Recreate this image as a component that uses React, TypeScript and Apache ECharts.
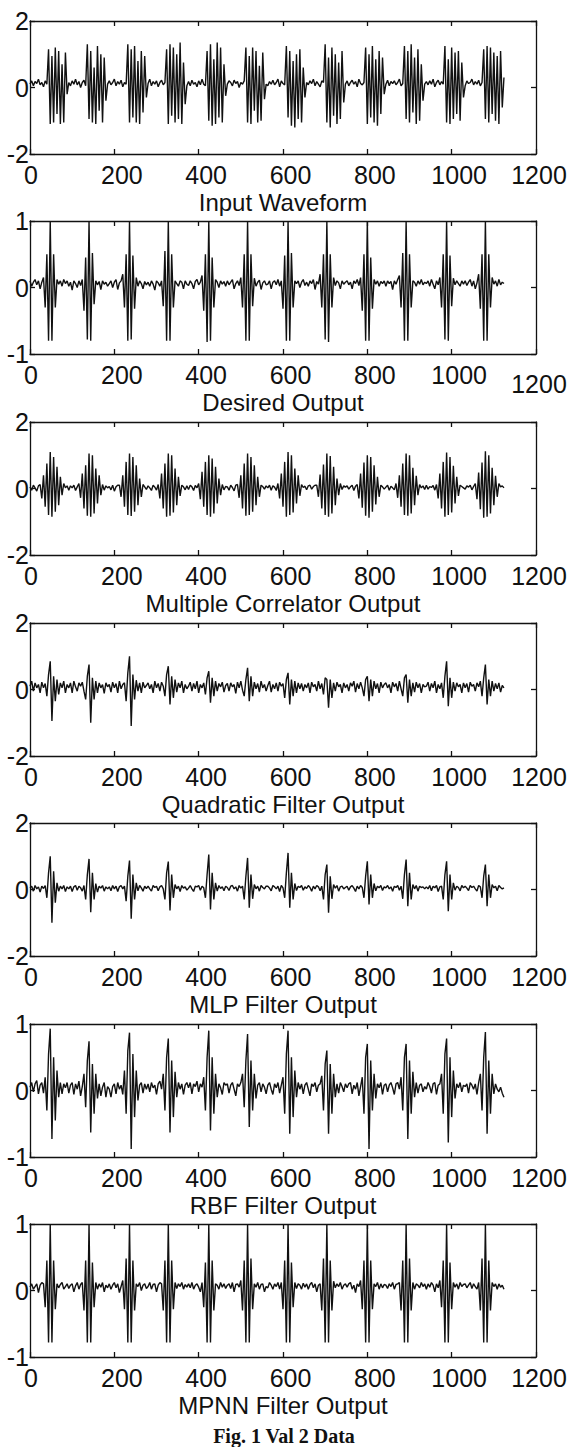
import React, { useEffect, useRef } from "react";
import * as echarts from "echarts";

// sample spacing of the recorded signals and the first sample index of each burst period
const sampleStep = 4;
const periodStarts = [0, 23, 47, 70, 94, 117, 141, 164, 188, 211, 235, 258];

const xTickValues = [0, 200, 400, 600, 800, 1000, 1200];

const titles = [
  "Input Waveform",
  "Desired Output",
  "Multiple Correlator Output",
  "Quadratic Filter Output",
  "MLP Filter Output",
  "RBF Filter Output",
  "MPNN Filter Output",
];
const yLimits = [2, 1, 2, 2, 2, 1, 1];
const caption = "Fig. 1 Val 2 Data";

const inputRows = [
  [.1,.2,.05,.18,.12,.25,.08,.15,.02,.2,.1,1.15,-1.1,.95,-1.05,1.2,-.8,1.1,-1.1,.7,-1.05,1.05,-.2],
  [.15,.05,.2,.1,.25,.08,.18,0,.15,.22,.05,1.3,-.95,1.1,-1.05,.6,-1.1,1.25,-.7,1.0,-1.05,.9,-.4,.1],
  [.2,.08,.15,.25,.05,.18,.1,.22,.02,.15,.1,1.3,-1.05,1.15,-.9,1.25,-1.05,.8,-1.1,1.1,-.75,.95,-.3],
  [.12,.25,.05,.18,.1,.2,.02,.15,.22,.08,.15,1.15,-1.1,1.3,-.85,1.2,-1.05,1.0,-.95,1.35,-1.1,.75,-.5,.05],
  [.18,.05,.22,.1,.15,.02,.2,.08,.25,.1,.05,1.1,-1.0,1.3,-1.15,.85,-1.1,1.35,-.9,1.2,-1.05,.7,-.25],
  [.1,.2,.15,.05,.22,.12,.18,0,.15,.1,.2,1.2,-1.05,.95,-1.1,1.2,-.7,1.1,-1.05,.65,-1.0,1.05,-.35,.1],
  [.05,.18,.1,.22,.08,.15,.25,.02,.2,.12,.08,1.25,-.9,1.1,-1.15,.8,-1.2,1.0,-.95,1.15,-1.05,.6,-.3],
  [.15,.08,.2,.12,.25,.05,.18,.1,.02,.2,.15,1.3,-1.05,.9,-1.2,1.2,-.85,1.0,-1.1,.75,-.95,1.1,-.45,.1],
  [.2,.05,.15,.22,.1,.18,.02,.25,.12,.08,.15,1.2,-1.1,1.0,-.9,1.25,-1.05,.85,-1.15,1.1,-.8,.9,-.2],
  [.1,.22,.05,.18,.12,.2,.08,.15,.25,.05,.12,1.25,-.95,1.1,-1.05,1.3,-.75,.9,-1.1,1.15,-1.0,.7,-.4,.1],
  [.18,.08,.2,.1,.25,.02,.15,.22,.08,.18,.1,1.25,-1.05,.85,-1.1,1.2,-.95,1.05,-.8,1.1,-1.0,.75,-.3],
  [.05,.2,.12,.15,.25,.08,.18,.1,.22,.05,.15,1.15,-.95,1.25,-1.05,1.2,-.8,1.05,-1.0,.95,-1.1,1.1,-.6,.3],
];

const desiredRows = [
  [.1,.02,.08,.12,.04,.1,-.02,.08,.15,-.3,.5,-.8,1,-.8,.5,-.3,.12,.05,.1,.02,.12,.06,.1],
  [.02,.08,-.04,.1,.06,0,.1,.03,.12,-.35,.45,-.78,1,-.8,.52,-.25,.1,.04,.09,-.03,.1,.05,.08,.02],
  [.06,.1,0,.08,.12,-.03,.07,.1,.2,-.3,.5,-.8,1,-.78,.48,-.32,.15,.02,.1,.06,-.02,.09,.04],
  [.08,.02,.1,.05,-.04,.1,.07,.02,.1,-.28,.55,-.8,1,-.8,.5,-.3,.1,.06,.02,.1,.08,-.02,.1,.05],
  [.03,.1,.06,-.02,.09,.12,.04,.08,.18,-.35,.5,-.82,1,-.8,.45,-.3,.12,.08,0,.1,.05,.09,.02],
  [.1,.04,.08,.12,-.02,.06,.1,.03,.15,-.3,.5,-.8,1,-.8,.5,-.28,.14,.02,.08,.11,-.03,.07,.1,.04],
  [.05,.1,-.02,.08,.1,.04,.12,.02,.1,-.32,.48,-.8,1,-.8,.52,-.3,.1,.06,.1,0,.08,.12,.03],
  [.08,.02,.1,.06,.12,-.03,.09,.05,.2,-.3,.5,-.78,1,-.82,.5,-.3,.15,.03,.1,.07,-.02,.1,.05,.08],
  [.1,.04,.08,-.02,.1,.06,.12,.03,.15,-.35,.5,-.8,1,-.8,.45,-.32,.12,.05,.1,.02,.09,.06,.1],
  [.02,.1,.06,.09,-.03,.1,.05,.12,.18,-.3,.52,-.8,1,-.8,.5,-.3,.1,.08,.02,.1,.05,.12,.04,.08],
  [.06,.1,.02,.12,.05,-.02,.1,.04,.15,-.3,.5,-.78,1,-.8,.48,-.28,.14,.04,.1,.06,.02,.1,.05],
  [.1,.03,.08,.12,.02,.1,-.02,.07,.2,-.32,.5,-.8,1,-.8,.5,-.3,.15,.05,.1,.02,.12,.04,.08,.06],
];

const correlatorRows = [
  [.05,-.05,.1,.02,-.08,.08,.12,-.3,.4,-.55,.75,-.8,1.1,-.85,.95,-.7,.65,-.5,.35,-.2,.15,.02,.08],
  [-.05,.08,.02,.1,-.06,.05,.15,-.28,.45,-.6,.7,-.82,1.05,-.85,1.0,-.75,.6,-.45,.4,-.2,.12,-.05,.08,.02],
  [.06,-.04,.1,-.08,.05,.1,.1,-.25,.4,-.55,.8,-.8,1.05,-.83,.95,-.7,.7,-.5,.3,-.25,.12,.05,-.03],
  [.08,.02,-.06,.1,.04,-.05,.12,-.3,.45,-.6,.75,-.85,1.05,-.82,1.0,-.72,.6,-.5,.35,-.22,.1,.05,-.04,.08],
  [-.03,.1,.05,-.06,.09,.02,.15,-.32,.5,-.55,.8,-.8,1.0,-.85,.9,-.75,.65,-.45,.3,-.2,.12,-.04,.06],
  [.05,-.05,.1,.03,-.07,.1,.12,-.28,.4,-.6,.75,-.82,1.05,-.8,.95,-.7,.7,-.5,.35,-.25,.1,.06,-.02,.08],
  [.02,.1,-.05,.08,.04,-.06,.15,-.3,.45,-.55,.8,-.85,1.1,-.8,1.0,-.72,.6,-.45,.4,-.22,.12,.03,.07],
  [-.04,.08,.1,-.02,.06,.1,.1,-.25,.42,-.6,.72,-.8,1.05,-.85,.98,-.75,.65,-.5,.3,-.2,.15,-.03,.08,.04],
  [.08,-.02,.05,.1,-.06,.07,.12,-.3,.45,-.58,.78,-.82,1.0,-.88,.95,-.7,.7,-.48,.35,-.25,.1,.05,-.02],
  [.04,.1,-.05,.07,.02,-.04,.15,-.28,.4,-.55,.75,-.8,1.05,-.82,1.0,-.75,.62,-.5,.38,-.2,.12,.02,.08,-.03],
  [.1,-.02,.06,.03,.09,-.05,.12,-.3,.45,-.6,.8,-.85,1.08,-.8,.95,-.72,.68,-.45,.35,-.22,.1,.06,.02],
  [-.02,.08,.04,.1,-.04,.06,.15,-.32,.48,-.62,.78,-.88,1.12,-.85,1.0,-.75,.62,-.5,.38,-.25,.15,.05,.08,.02],
];

const quadraticRows = [
  [.1,.25,-.05,.2,.05,.15,-.1,.22,.05,.18,-.2,.45,.85,-.95,.4,-.35,.3,-.15,.2,.05,.25,-.1,.15],
  [.05,.2,-.1,.25,.08,-.05,.2,.1,.22,-.05,-.3,.4,.75,-1.0,.35,-.3,.25,-.1,.2,.05,.15,-.12,.2,.08],
  [.15,-.08,.22,.05,.18,-.1,.25,.02,.15,.2,-.35,.5,1.0,-1.1,.45,-.3,.28,-.05,.2,-.1,.22,.05,.12],
  [.2,.02,.15,-.1,.25,.05,.18,-.05,.22,.1,-.2,.45,.7,-.45,.4,-.25,.3,-.08,.2,.05,.25,-.1,.15,.02],
  [.1,.22,-.05,.18,.02,.25,-.1,.15,.05,.2,-.15,.35,.55,-.4,.35,-.2,.25,-.05,.18,.08,.22,-.08,.12],
  [.18,-.05,.2,.08,.15,-.12,.22,.05,.25,-.02,-.2,.3,.65,-.35,.4,-.2,.22,.02,.18,-.08,.25,.05,.15,-.05],
  [.12,.25,-.08,.15,.02,.2,-.05,.22,.1,.18,-.25,.3,.5,-.45,.3,-.2,.25,-.1,.2,.02,.18,-.05,.15],
  [.05,.2,-.1,.22,.08,.15,-.05,.25,.02,.18,-.15,.35,.3,-.55,.3,-.25,.2,-.05,.22,.08,.15,-.1,.2,.05],
  [.15,-.05,.2,.1,.25,-.08,.18,.02,.22,.05,-.2,.3,.4,-.35,.3,-.2,.25,.02,.18,-.1,.22,.05,.15],
  [.2,.05,.15,-.1,.22,.08,.18,-.05,.25,.02,-.2,.35,.45,-.4,.3,-.2,.2,-.08,.22,.05,.18,-.1,.15,.08],
  [.1,.22,-.05,.18,.05,.25,-.1,.15,.02,.2,-.25,.4,.85,-.5,.35,-.25,.22,-.05,.2,.08,.15,-.1,.2],
  [.05,.18,-.08,.22,.1,.15,-.05,.2,.08,.25,-.2,.35,.75,-.45,.3,-.2,.25,-.05,.18,.02,.2,-.08,.12,.05],
];

const mlpRows = [
  [.05,.1,-.05,.12,.02,.08,-.08,.1,.03,.12,-.25,.5,1.0,-1.0,.55,-.4,.2,-.05,.1,.02,.12,-.06,.08],
  [.02,.1,-.06,.08,.12,-.02,.1,.05,-.05,.12,-.3,.45,.92,-.68,.5,-.3,.18,-.08,.1,.04,.12,-.05,.08,.02],
  [.08,-.04,.12,.02,.1,-.06,.08,.12,.02,.1,-.35,.4,.87,-.88,.45,-.3,.2,-.04,.12,.05,-.05,.1,.03],
  [.1,.02,-.05,.12,.06,.1,-.04,.08,.12,.02,-.3,.5,.84,-.63,.45,-.25,.15,.02,.1,-.06,.12,.04,.08,-.02],
  [.04,.12,.02,-.06,.1,.08,.12,-.02,.1,.05,-.25,.45,1.05,-.6,.5,-.3,.2,-.05,.12,.03,.08,-.04,.1],
  [.06,-.03,.1,.12,.02,.08,-.05,.12,.04,.1,-.3,.4,.95,-.55,.45,-.28,.15,.02,.1,-.05,.12,.06,.02,.1],
  [.1,.04,-.04,.12,.08,.02,.1,-.06,.12,.05,-.25,.5,1.1,-.55,.5,-.3,.18,-.03,.1,.06,.12,-.02,.08],
  [.03,.12,.06,-.05,.1,.02,.12,.08,-.04,.1,-.3,.45,.75,-.7,.4,-.28,.15,.04,.12,-.05,.08,.1,.02,.06],
  [.1,-.02,.08,.12,.04,-.06,.1,.02,.12,.06,-.25,.4,.85,-.45,.45,-.25,.18,-.04,.1,.05,.12,-.03,.08],
  [.05,.12,.02,.08,-.05,.1,.06,.12,-.02,.1,-.28,.45,.9,-.5,.5,-.3,.15,.02,.12,-.05,.1,.06,.08,.02],
  [.08,.02,.12,-.04,.1,.05,.12,-.06,.08,.1,-.3,.45,.85,-.65,.45,-.3,.2,-.02,.1,.06,-.04,.12,.05],
  [.1,.04,-.03,.12,.06,.1,.02,-.05,.12,.08,-.25,.4,.75,-.5,.45,-.25,.15,.05,.1,-.04,.12,.06,.02,.05],
];

const rbfRows = [
  [.05,.12,-.02,.1,.15,-.05,.08,.12,-.04,.2,-.3,.55,.93,-.73,.5,-.45,.3,-.1,.12,-.05,.1,.04,.12],
  [-.04,.08,.12,-.06,.1,.02,.14,-.08,.06,.25,-.25,.45,.74,-.63,.4,-.35,.25,-.12,.1,-.08,.05,.12,-.1,.06],
  [.02,-.1,.06,.1,-.05,.12,.02,.08,-.06,.3,-.35,.6,.87,-.88,.55,-.4,.3,-.15,.08,.12,-.04,.1,.02],
  [.1,-.02,.12,.04,.08,-.06,.1,.14,.02,.25,-.3,.5,.78,-.63,.45,-.4,.28,-.1,.12,.02,.1,-.06,.08,.12],
  [.04,.12,-.05,.1,.06,.14,-.02,.1,.05,.2,-.3,.5,.9,-.6,.5,-.35,.25,-.1,.1,.04,-.06,.12,.08],
  [.1,-.04,.08,.12,.02,-.08,.1,.06,.12,.25,-.25,.45,.85,-.55,.45,-.3,.25,-.12,.08,.12,-.02,.1,.05,-.05],
  [.08,.12,.02,-.06,.1,.04,.12,-.04,.08,.2,-.35,.55,.9,-.65,.5,-.4,.3,-.1,.12,.02,.1,-.05,.08],
  [.12,.02,-.08,.1,.06,.12,-.02,.08,.1,.22,-.3,.4,.6,-.65,.4,-.35,.25,-.1,.1,-.04,.12,.06,-.02,.1],
  [.04,.1,.12,-.05,.08,.02,.12,-.08,.06,.2,-.35,.5,.7,-.88,.45,-.3,.25,-.12,.1,.04,.12,-.06,.08],
  [.1,-.02,.08,.12,.04,-.06,.1,.12,.02,.2,-.3,.5,.7,-.73,.45,-.35,.28,-.1,.12,-.04,.08,.1,-.02,.06],
  [.02,.12,.06,-.04,.1,.12,-.06,.08,.1,.25,-.35,.55,.78,-.78,.5,-.4,.3,-.12,.1,.04,.12,-.02,.08],
  [.06,.1,-.04,.12,.08,.02,.1,-.06,.12,.25,-.3,.5,.88,-.65,.45,-.35,.25,-.05,.1,.02,-.02,.05,-.04,-.1],
];

const mpnnRows = [
  [.05,.1,.02,.06,.1,-.03,.08,.12,.1,-.25,.45,-.78,1,-.78,.45,-.28,.1,.04,.09,.12,.02,.06,.1],
  [.03,.08,.1,-.02,.07,.12,.02,.09,.12,-.3,.45,-.78,1,-.78,.42,-.25,.12,.02,.1,.05,.12,-.02,.08,.04],
  [.1,.02,.08,.12,.04,.1,-.03,.06,.15,-.28,.48,-.78,1,-.78,.45,-.3,.1,.06,.12,0,.08,.1,.03],
  [.06,.12,.02,.09,.1,-.02,.08,.12,.1,-.3,.45,-.78,1,-.78,.45,-.28,.12,.03,.1,.06,.12,.02,.09,.05],
  [.1,.04,.12,.02,.08,.1,.05,-.02,.12,-.25,.42,-.78,1,-.78,.45,-.3,.1,.08,.02,.12,.05,.1,.03],
  [.08,.1,.03,.12,-.02,.09,.1,.05,.15,-.3,.45,-.78,1,-.78,.48,-.28,.1,.05,.12,.02,.09,.1,-.02,.06],
  [.04,.12,.08,.02,.1,.06,.12,.02,.12,-.28,.45,-.78,1,-.78,.42,-.25,.12,.03,.1,.08,.02,.11,.05],
  [.1,.02,.09,.12,.04,.1,-.02,.08,.1,-.3,.48,-.78,1,-.78,.45,-.3,.14,.04,.1,.06,.12,.02,.08,.1],
  [.05,.1,.12,.02,.08,-.03,.1,.06,.15,-.28,.45,-.78,1,-.78,.45,-.28,.1,.06,.12,.02,.1,.04,.09],
  [.08,.03,.1,.06,.12,.02,.09,.1,.12,-.3,.45,-.78,1,-.78,.48,-.3,.12,.02,.1,.08,.04,.12,.06,.1],
  [.02,.1,.05,.12,.08,-.02,.1,.04,.15,-.25,.45,-.78,1,-.78,.42,-.28,.12,.05,.1,.02,.12,.06,.09],
  [.1,.04,.08,.12,.03,.1,.06,.02,.12,-.3,.48,-.78,1,-.78,.45,-.3,.12,.06,.1,.02,.1,.05,.08,.02],
];

const seriesRows = [inputRows, desiredRows, correlatorRows, quadraticRows, mlpRows, rbfRows, mpnnRows];

function toPoints(rows: number[][]) {
  const pts: number[][] = [];
  rows.forEach((row, r) => {
    row.forEach((v, j) => {
      pts.push([(periodStarts[r] + j) * sampleStep, v]);
    });
  });
  return pts;
}

// layout
const gridLeft = 30;
const gridWidth = 506;
const gridHeight = 133;
const gridTops = [21, 221, 422, 623, 823, 1024, 1224];
const FONT = "'Liberation Sans', Arial, Helvetica, sans-serif";
const INK = "#111";
const FS = 25;

export default function App() {
  const ref = useRef<HTMLDivElement>(null);
  useEffect(() => {
    if (!ref.current) return;
    const chart = echarts.init(ref.current, undefined, { renderer: "svg" });
    const lineStyle = { color: INK, width: 1.3 };
    const grid: any[] = [];
    const xAxis: any[] = [];
    const yAxis: any[] = [];
    const series: any[] = [];
    titles.forEach((title, i) => {
      const lim = yLimits[i];
      grid.push({
        left: gridLeft,
        width: gridWidth,
        top: gridTops[i],
        height: gridHeight,
        containLabel: false,
        outerBoundsMode: "none",
      });
      xAxis.push({
        gridIndex: i,
        type: "value",
        position: "bottom",
        min: xTickValues[0],
        max: xTickValues[xTickValues.length - 1],
        interval: 200,
        axisLine: { show: true, onZero: false, lineStyle },
        axisTick: { show: true, inside: true, length: 5, lineStyle },
        splitLine: { show: false },
        axisLabel: {
          margin: 8,
          color: INK,
          fontFamily: FONT,
          fontSize: FS,
          hideOverlap: false,
          formatter: (v: number) => {
            if (v === 0) return "{z|0}";
            if (v === 1200) return (i === 1 ? "{low|" : "{e|") + v + "}";
            return "{n|" + v + "}";
          },
          rich: {
            z: { fontFamily: FONT, fontSize: FS, color: INK, padding: [0, 0, 0, 2] },
            n: { fontFamily: FONT, fontSize: FS, color: INK, padding: [0, 0, 0, 15] },
            e: { fontFamily: FONT, fontSize: FS, color: INK, padding: [0, 0, 0, 6] },
            low: { fontFamily: FONT, fontSize: FS, color: INK, padding: [9, 0, 0, 6] },
          },
        },
        name: title,
        nameLocation: "middle",
        nameGap: 36,
        nameMoveOverlap: false,
        nameTextStyle: { color: INK, fontFamily: FONT, fontSize: 24 },
      });
      xAxis.push({
        gridIndex: i,
        type: "value",
        position: "top",
        min: xTickValues[0],
        max: xTickValues[xTickValues.length - 1],
        interval: 200,
        axisLine: { show: true, onZero: false, lineStyle },
        axisTick: { show: true, inside: true, length: 5, lineStyle },
        axisLabel: { show: false },
        splitLine: { show: false },
      });
      yAxis.push({
        gridIndex: i,
        type: "value",
        position: "left",
        min: -lim,
        max: lim,
        interval: lim,
        axisLine: { show: true, onZero: false, lineStyle },
        axisTick: { show: true, inside: true, length: 5, lineStyle },
        splitLine: { show: false },
        axisLabel: { margin: 1, color: INK, fontFamily: FONT, fontSize: FS },
      });
      yAxis.push({
        gridIndex: i,
        type: "value",
        position: "right",
        min: -lim,
        max: lim,
        interval: lim,
        axisLine: { show: true, onZero: false, lineStyle },
        axisTick: { show: true, inside: true, length: 5, lineStyle },
        splitLine: { show: false },
        axisLabel: { show: false },
      });
      series.push({
        type: "line",
        xAxisIndex: i * 2,
        yAxisIndex: i * 2,
        data: toPoints(seriesRows[i]),
        showSymbol: false,
        symbol: "none",
        silent: true,
        lineStyle: { color: INK, width: 1.4 },
      });
    });
    chart.setOption({
      animation: false,
      backgroundColor: "#fff",
      graphic: [
        {
          type: "text",
          x: 284,
          y: 1436,
          style: {
            text: caption,
            x: 0,
            y: 0,
            align: "center",
            verticalAlign: "middle",
            fontFamily: "'Liberation Serif', 'Times New Roman', serif",
            fontWeight: "bold",
            fontSize: 20,
            fill: INK,
          },
        },
      ],
      grid,
      xAxis,
      yAxis,
      series,
    });
    return () => chart.dispose();
  }, []);
  return (
    <div
      ref={ref}
      style={{ position: "absolute", left: 0, top: 0, width: 569, height: 1447, background: "#fff" }}
    />
  );
}
